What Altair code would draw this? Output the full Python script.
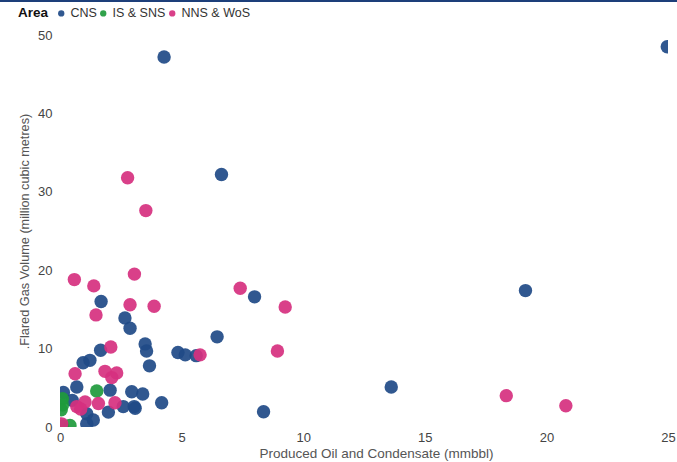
import altair as alt
import pandas as pd

# Produced oil & condensate (mmbbl) vs flared gas volume (million m3), by area
cns_x = [24.97, 4.28, 6.64, 19.14, 8.0, 1.69, 6.46, 2.67, 2.88, 3.5, 3.56, 3.68,
         4.85, 5.15, 5.6, 1.67, 0.95, 1.23, 13.62, 8.37, 4.18, 3.09, 3.4, 2.95,
         2.6, 2.06, 1.99, 0.69, 0.14, 1.1, 1.37, 1.1, 0.5, 3.05]
cns_y = [48.5, 47.2, 32.2, 17.4, 16.6, 16.0, 11.5, 13.9, 12.6, 10.6, 9.7, 7.8,
         9.5, 9.2, 9.1, 9.8, 8.2, 8.5, 5.1, 1.95, 3.1, 2.4, 4.2, 4.5,
         2.6, 4.7, 1.9, 5.1, 4.4, 1.7, 0.9, 0.4, 3.4, 2.6]

is_x = [1.51, 0.1, 0.1, 0.05, 0.41, 0.1]
is_y = [4.6, 2.8, 3.6, 2.2, 0.2, 0.1]

nns_x = [2.78, 3.53, 3.06, 0.59, 1.39, 7.41, 2.88, 3.87, 1.48, 9.26, 8.94, 5.76,
         2.09, 0.62, 1.85, 2.33, 2.13, 0.69, 1.03, 1.58, 2.26, 0.85, 18.35, 20.8, 0.07]
nns_y = [31.8, 27.6, 19.5, 18.8, 18.0, 17.7, 15.6, 15.4, 14.3, 15.3, 9.7, 9.2,
         10.2, 6.8, 7.1, 6.9, 6.3, 2.6, 3.2, 3.0, 3.1, 2.3, 4.0, 2.7, 0.4]

areas = ["CNS", "IS & SNS", "NNS & WoS"]
colors = ["#1f4a87", "#1e9a3c", "#d6307f"]

df = pd.concat([
    pd.DataFrame({"oil": cns_x, "gas": cns_y, "Area": "CNS"}),
    pd.DataFrame({"oil": is_x, "gas": is_y, "Area": "IS & SNS"}),
    pd.DataFrame({"oil": nns_x, "gas": nns_y, "Area": "NNS & WoS"}),
])

FONT = "Liberation Sans"

points = alt.Chart(df).mark_circle(size=180, opacity=0.92, clip=True).encode(
    x=alt.X("oil:Q", title="Produced Oil and Condensate (mmbbl)",
            scale=alt.Scale(domain=[0, 25], nice=False),
            axis=alt.Axis(values=[0, 5, 10, 15, 20, 25], domain=False, ticks=False,
                          grid=False, labelFlush=False, labelPadding=4,
                          titlePadding=2, titleX=316, titleFontSize=13.5)),
    y=alt.Y("gas:Q", title=".Flared Gas Volume (million cubic metres)",
            scale=alt.Scale(domain=[0, 50], nice=False),
            axis=alt.Axis(values=[0, 10, 20, 30, 40, 50], domain=False, ticks=False,
                          grid=False, labelFlush=False, labelPadding=8,
                          titlePadding=6, titleFontSize=12.7)),
    color=alt.Color("Area:N", scale=alt.Scale(domain=areas, range=colors),
                    legend=alt.Legend(orient="none", legendX=-42, legendY=-28,
                                      direction="horizontal", titleOrient="left",
                                      symbolSize=40, symbolType="circle",
                                      columnPadding=0, labelOffset=3,
                                      titleFontSize=13.5, labelFontSize=12.5,
                                      titleFontWeight="bold", titleColor="#111",
                                      labelColor="#333", titlePadding=6)),
)

# thin dark rule running along the very top edge
top_rule = alt.Chart(df).mark_rule(color="#1d3f7a", strokeWidth=2, clip=False).encode(
    x=alt.value(-60), x2=alt.value(617), y=alt.value(-34)
)

chart = alt.layer(top_rule, points).properties(
    width=608, height=392,
    autosize=alt.AutoSizeParams(type="none"),
    padding={"left": 60, "top": 35, "right": 9, "bottom": 35},
).configure_view(stroke=None).configure_axis(
    labelFont=FONT, titleFont=FONT, labelFontSize=13,
    labelColor="#444", titleColor="#555", titleFontWeight="normal",
).configure_legend(labelFont=FONT, titleFont=FONT)

chart.save("out.html", embed_options={"renderer": "svg", "actions": False})
